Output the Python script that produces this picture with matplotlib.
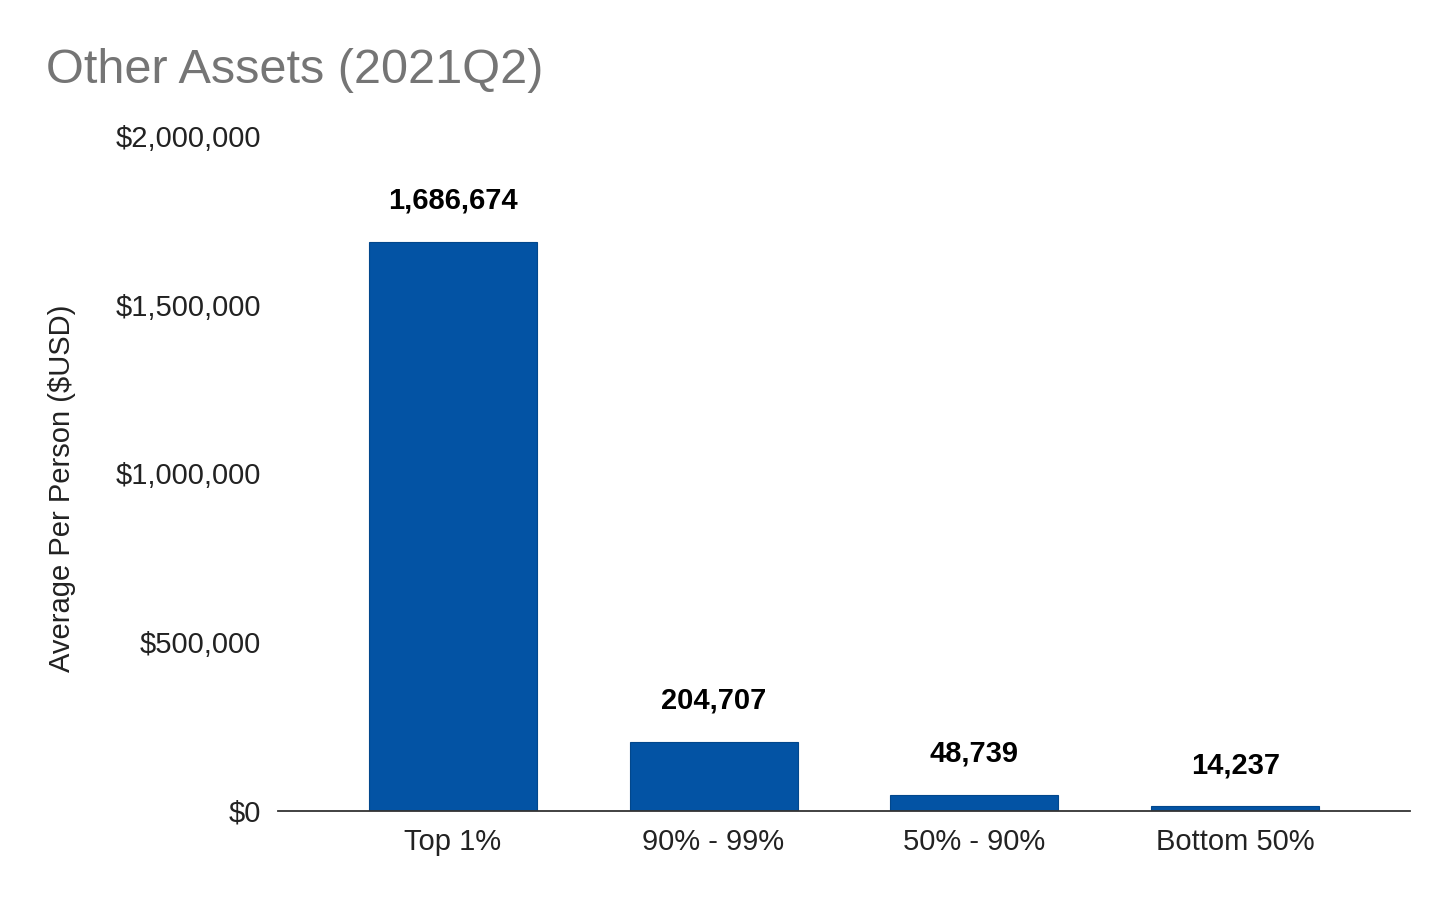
import matplotlib.pyplot as plt
from matplotlib.ticker import FuncFormatter

categories = ['Top 1%', '90% - 99%', '50% - 90%', 'Bottom 50%']
values = [1686674, 204707, 48739, 14237]
yticks = [0, 500000, 1000000, 1500000, 2000000]

plt.rcParams['font.family'] = ['Liberation Sans', 'DejaVu Sans']

fig = plt.figure(figsize=(14.56, 9), dpi=100)
ax = fig.add_axes([0.1909, 0.0989, 0.7775, 0.75])

x = range(len(categories))
bars = ax.bar(x, values, width=0.644, color='#0353a4', edgecolor='#02478c', linewidth=0.8)
for b, v in zip(bars, values):
    ax.annotate(f'{v:,}', (b.get_x() + b.get_width() / 2, v), xytext=(0, 19.5),
                textcoords='offset points', ha='center', va='bottom',
                fontsize=21, fontweight='bold', color='#000000')

ax.set_xlim(-0.67, 3.67)
ax.set_ylim(0, 2000000)
ax.set_yticks(yticks)
ax.yaxis.set_major_formatter(FuncFormatter(lambda v, p: f'${int(v):,}'))
ax.set_xticks(list(x))
ax.set_xticklabels(categories)
ax.tick_params(axis='both', length=0, labelsize=21, colors='#222222', pad=12)
ax.tick_params(axis='y', pad=12)

for s in ['top', 'right', 'left']:
    ax.spines[s].set_visible(False)
ax.spines['bottom'].set_color('#333333')
ax.spines['bottom'].set_linewidth(1.3)

ax.set_ylabel('Average Per Person ($USD)', fontsize=21, color='#222222', labelpad=29)
ax.yaxis.label.set_y(0.478)
fig.text(0.0316, 0.922, 'Other Assets (2021Q2)', fontsize=35, color='#757575', va='center', ha='left')

fig.savefig('out.png', dpi=100)
